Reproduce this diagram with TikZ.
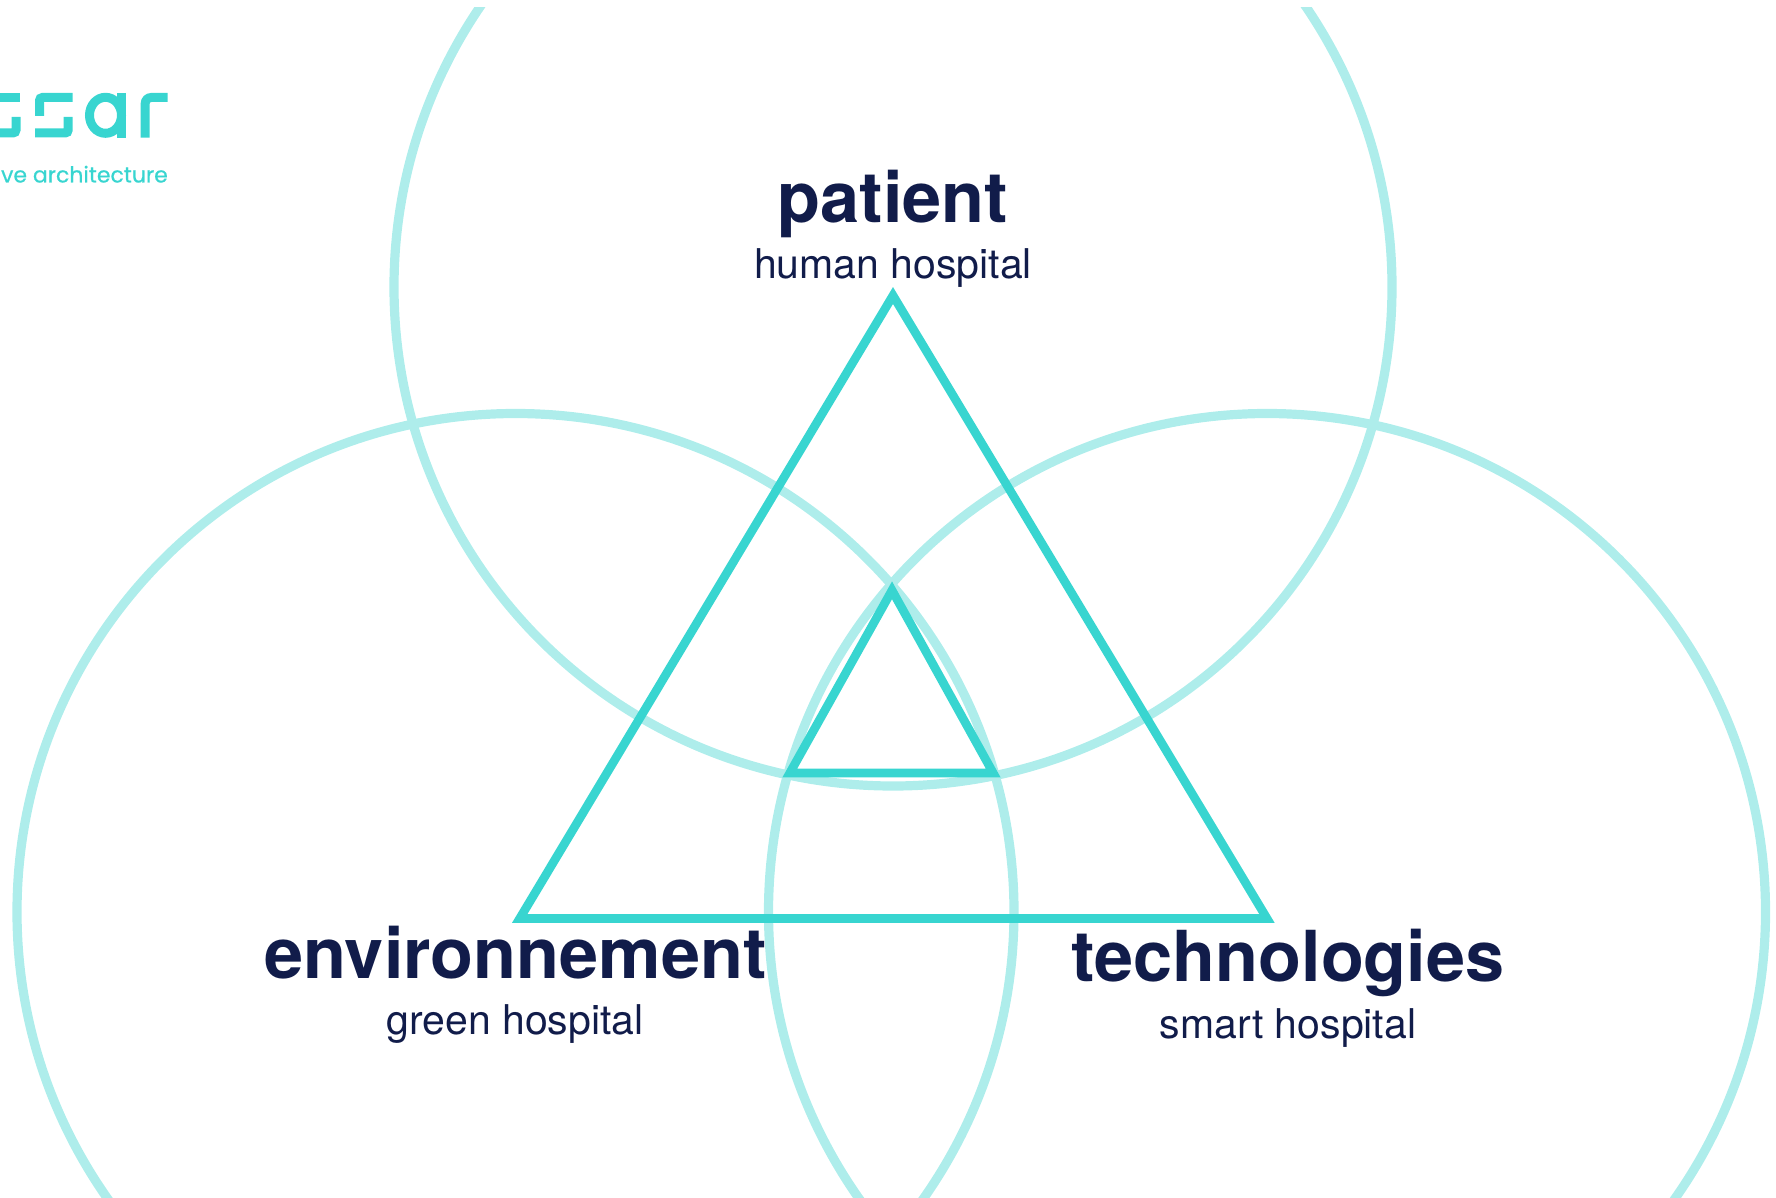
\documentclass[tikz,border=0pt]{standalone}
\usepackage{fontspec}
\setmainfont{TeX Gyre Heros}
\newfontfamily\logofont[FakeBold=0.6]{Poppins}
\definecolor{ringcol}{HTML}{AEEDEB}
\definecolor{tricol}{HTML}{38D5D0}
\definecolor{inkcol}{HTML}{111C4A}
\tikzset{
  ring/.style={draw=ringcol,line width=9.2pt},
  tri/.style={draw=tricol,line width=8.7pt,line join=miter},
  title/.style={inkcol,font=\bfseries\fontsize{70.3}{70.3}\selectfont,inner sep=0pt,anchor=base},
  subtitle/.style={inkcol,font=\fontsize{41}{41}\selectfont,inner sep=0pt,anchor=base},
  logo/.style={draw=tricol,line width=9pt},
}
\begin{document}
\begin{tikzpicture}[x=1pt,y=-1pt]
  \useasboundingbox (0,0) rectangle (1776,1198);
  \begin{scope}
    \clip (0,8) rectangle (1776,1198);
    \draw[ring] (893,287) circle (499);
    \draw[ring] (515.5,912) circle (498.5);
    \draw[ring] (1267,912) circle (498.5);
  \end{scope}
  \draw[tri] (893,295.5)--(1267,918.5)--(519.7,918.5)--cycle;
  \draw[tri] (892,590.3)--(993.2,773)--(789.8,773)--cycle;
  \node[title] (patient) at (893,222.5) {patient};
  \node[subtitle] (human) at (893,278) {human hospital};
  \node[title] (environ) at (515.5,978) {environnement};
  \node[subtitle] (green) at (515,1034) {green hospital};
  \node[title] (techno) at (1288,981) {technologies};
  \node[subtitle] (smart) at (1288,1038) {smart hospital};
  % logo
  \draw[logo] (0,97.5)--(20,97.5);
  \draw[logo,rounded corners=3pt] (0,133)--(16,133)--(16,117);
  \draw[logo,rounded corners=3pt] (39.5,116)--(39.5,97.5)--(72.7,97.5);
  \draw[logo,rounded corners=3pt] (35,133)--(68.2,133)--(68.2,117);
  \draw[logo] (105.5,115.3) ellipse (16 and 18);
  \draw[logo] (121.5,93)--(121.5,137.7);
  \draw[logo,rounded corners=6pt] (145.2,137.7)--(145.2,97.5)--(167.5,97.5);
  \node[font=\logofont\fontsize{22}{22}\selectfont,text=tricol,inner sep=0pt,anchor=base east] (tagline) at (168,182.5) {ve architecture};
\end{tikzpicture}
\end{document}
